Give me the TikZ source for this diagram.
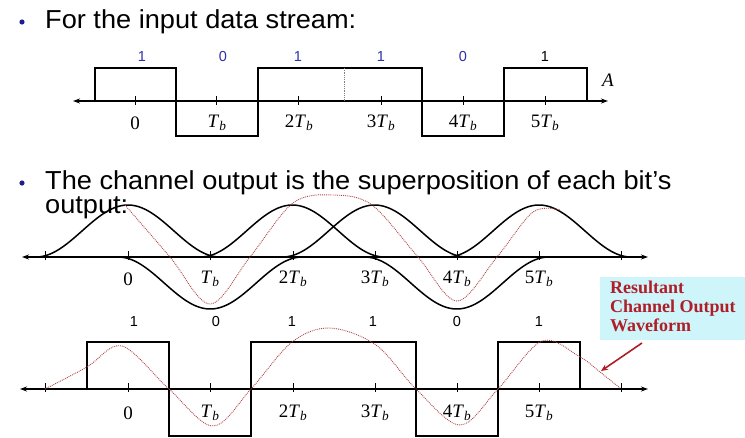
\documentclass[tikz,border=0pt]{standalone}
\usepackage{fontspec}
\setmainfont{Liberation Sans}
\newfontfamily\tnr{Liberation Serif}
\usetikzlibrary{arrows.meta}
\definecolor{bitblue}{RGB}{45,50,165}
\definecolor{navy}{RGB}{30,30,140}
\definecolor{wavered}{RGB}{175,70,70}
\definecolor{notered}{RGB}{175,30,40}
\definecolor{notecyan}{RGB}{205,245,250}
\tikzset{
  axis/.style={line width=1.4pt,-{Stealth[length=7pt,width=5pt]}},
  tick/.style={line width=1pt},
  sq/.style={line width=1.3pt},
  pulse/.style={line width=1.5pt},
  sumwave/.style={wavered,line width=0.9pt,densely dotted},
  bullettext/.style={font=\fontsize{26}{28}\selectfont,anchor=base west,inner sep=0pt,xscale=1.045},
  ticklabel/.style={font=\tnr\fontsize{19}{21}\selectfont,inner sep=0pt},
  bitlabel/.style={font=\fontsize{14.5}{16}\selectfont,inner sep=0pt},
  notetext/.style={font=\tnr\bfseries\fontsize{18}{19}\selectfont,text=notered,align=left,inner sep=0pt,anchor=north west}
}
\newcommand{\Tb}[1]{#1\textit{T}\textsubscript{\textit{b}}}
\begin{document}
\begin{tikzpicture}[x=1pt,y=-1pt]
\useasboundingbox (0,0) rectangle (745,437);
% ---------- titles ----------
\fill[navy] (22,22) circle (2.6);
\node[bullettext] (t1) at (45,28) {For the input data stream:};
\fill[navy] (22,183) circle (2.6);
\node[bullettext] (t2) at (45,189) {The channel output is the superposition of each bit’s};
\node[bullettext] (t3) at (45,213) {output:};
% ---------- top panel ----------
\coordinate (tl) at (73,101);
\coordinate (tr) at (608,101);
\draw[axis] (95,101) -- (tl);
\draw[axis] (95,101) -- (tr);
\foreach \x in {135,216,298,381,463,545}
  \draw[tick] (\x,96) -- (\x,105);
\draw[sq] (95,101) -- (95,68) -- (176,68) -- (176,136) -- (258,136) -- (258,68)
  -- (422,68) -- (422,136) -- (504,136) -- (504,68) -- (587,68) -- (587,101);
\draw[gray,densely dotted,line width=0.8pt] (344,68) -- (344,101);
\node[ticklabel] (a0) at (135,123) {0};
\node[ticklabel] (a1) at (217,123) {\Tb{}};
\node[ticklabel] (a2) at (299,123) {\Tb{2}};
\node[ticklabel] (a3) at (381,123) {\Tb{3}};
\node[ticklabel] (a4) at (463,123) {\Tb{4}};
\node[ticklabel] (a5) at (545,123) {\Tb{5}};
\node[bitlabel,text=bitblue] (b0) at (142,57) {1};
\node[bitlabel,text=bitblue] (b1) at (223,57) {0};
\node[bitlabel,text=bitblue] (b2) at (298,57) {1};
\node[bitlabel,text=bitblue] (b3) at (381,57) {1};
\node[bitlabel,text=bitblue] (b4) at (463,57) {0};
\node[bitlabel] (b5) at (545,57) {1};
\node[font=\tnr\itshape\fontsize{19}{21}\selectfont,inner sep=0pt] (A) at (608,80) {A};
% ---------- middle panel ----------
\draw[axis] (330,257) -- (22,257);
\draw[axis] (330,257) -- (648,257);
\foreach \x in {45,128,210,293,375,457,539,621}
  \draw[tick] (\x,251) -- (\x,260);
\foreach \c/\s in {0/1,1/-1,2/1,3/1,4/-1,5/1}
  \draw[pulse,domain=-1.12:1.12,samples=70,smooth]
    plot ({128+82.2*(\c+\x)},{257-\s*52*(cos(80.36*\x))^2});
\draw[sumwave] plot[smooth,tension=0.55] coordinates {
  (125,205) (170,257) (210,304) (250,257) (293,203) (333,195) (372,205)
  (418,257) (457,301) (497,257) (533,212) (560,210)};
\node[ticklabel] (m0) at (128,279) {0};
\node[ticklabel] (m1) at (210,279) {\Tb{}};
\node[ticklabel] (m2) at (293,279) {\Tb{2}};
\node[ticklabel] (m3) at (375,279) {\Tb{3}};
\node[ticklabel] (m4) at (457,279) {\Tb{4}};
\node[ticklabel] (m5) at (539,279) {\Tb{5}};
% ---------- bottom panel ----------
\draw[axis] (330,389) -- (20,389);
\draw[axis] (330,389) -- (648,389);
\foreach \x in {45,128,210,293,375,457,539,621}
  \draw[tick] (\x,383) -- (\x,392);
\draw[sq] (87,389) -- (87,342) -- (169,342) -- (169,436) -- (251,436) -- (251,342)
  -- (416,342) -- (416,436) -- (498,436) -- (498,342) -- (580,342) -- (580,389);
\draw[sumwave] plot[smooth,tension=0.55] coordinates {
  (45,389) (87,367) (122,346) (169,389) (213,426) (251,389) (292,342) (330,328)
  (376,345) (416,389) (460,425) (498,389) (542,341) (580,357) (600,372) (620,388)};
\node[ticklabel] (c0) at (128,413) {0};
\node[ticklabel] (c1) at (210,413) {\Tb{}};
\node[ticklabel] (c2) at (293,413) {\Tb{2}};
\node[ticklabel] (c3) at (375,413) {\Tb{3}};
\node[ticklabel] (c4) at (457,413) {\Tb{4}};
\node[ticklabel] (c5) at (539,413) {\Tb{5}};
\node[bitlabel] (d0) at (134,322) {1};
\node[bitlabel] (d1) at (216,322) {0};
\node[bitlabel] (d2) at (292,322) {1};
\node[bitlabel] (d3) at (373,322) {1};
\node[bitlabel] (d4) at (457,322) {0};
\node[bitlabel] (d5) at (539,322) {1};
% ---------- annotation ----------
\fill[notecyan] (600,277) rectangle (745,340);
\node[notetext] (note) at (610,281) {Resultant\\Channel Output\\Waveform};
\coordinate (tip) at (601,371);
\draw[notered,line width=1.6pt,-{Stealth[length=7pt,width=6pt]}] (642,343) -- (tip);
\end{tikzpicture}
\end{document}
